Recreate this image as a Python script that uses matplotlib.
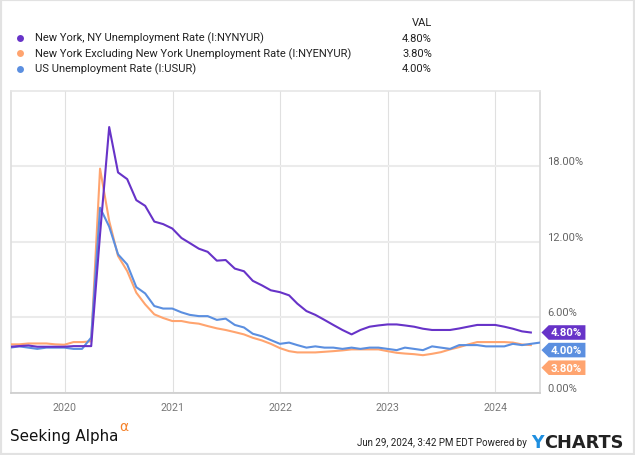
import numpy as np
import pandas as pd
import matplotlib
matplotlib.use("Agg")
import matplotlib.pyplot as plt
import matplotlib.transforms as mtransforms
from matplotlib.path import Path
from matplotlib.patches import Rectangle
from matplotlib.lines import Line2D

plt.rcParams['font.family'] = ['Roboto', 'DejaVu Sans']

# monthly values, plotted at month end
nyc = [3.67, 3.72, 3.77, 3.67, 3.67, 3.67, 3.67, 3.72, 3.72, 3.72,
       12.6,
       21.1, 17.5, 16.97, 15.3, 14.85, 13.6, 13.4,
       13.05, 12.3, 11.9, 11.45, 11.2, 10.5, 10.55, 9.87, 9.66, 8.9, 8.54, 8.15,
       8.0, 7.75, 7.09, 6.5, 6.2, 5.8, 5.4, 5.0, 4.65, 5.0, 5.26, 5.36,
       5.44, 5.44, 5.36, 5.26, 5.1, 5.0, 5.0, 5.0, 5.12, 5.26, 5.4, 5.4,
       5.4, 5.26, 5.1, 4.89, 4.8]
ny_ex = [3.86, 3.86, 3.93, 3.93, 3.93, 3.86, 3.83, 4.04, 4.04, 4.1,
         17.8,
         13.65, 10.87, 9.68, 7.96, 7.03, 6.24, 5.95,
         5.71, 5.71, 5.58, 5.5, 5.31, 5.13, 5.0, 4.83, 4.65, 4.38, 4.17, 3.9,
         3.56, 3.32, 3.22, 3.22, 3.22, 3.27, 3.32, 3.38, 3.46, 3.46, 3.46, 3.46,
         3.32, 3.19, 3.13, 3.08, 3.0, 3.11, 3.24, 3.46, 3.64, 3.85, 4.04, 4.04,
         4.04, 4.04, 4.0, 3.85, 3.8]
us = [3.6, 3.7, 3.6, 3.5, 3.6, 3.6, 3.6, 3.5, 3.5, 4.4,
      14.7, 13.2, 11.0, 10.2, 8.4, 7.9, 6.9, 6.7, 6.7,
      6.4, 6.2, 6.1, 6.1, 5.8, 5.9, 5.4, 5.2, 4.7, 4.5, 4.2, 3.9,
      4.0, 3.8, 3.6, 3.7, 3.6, 3.6, 3.5, 3.6, 3.5, 3.6, 3.6, 3.5,
      3.4, 3.6, 3.5, 3.4, 3.7, 3.6, 3.5, 3.8, 3.8, 3.8, 3.7, 3.7,
      3.7, 3.9, 3.8, 3.9, 4.0]

names = ['New York, NY Unemployment Rate (I:NYNYUR)',
         'New York Excluding New York Unemployment Rate (I:NYENYUR)',
         'US Unemployment Rate (I:USUR)']
last_vals = ['4.80%', '3.80%', '4.00%']
colors = ['#6733c8', '#ffa46f', '#5b8fe0']
years = [2020, 2021, 2022, 2023, 2024]
ytick_vals = [0, 6, 12, 18]

d_nyc = pd.date_range('2019-06-30', periods=len(nyc), freq='ME')
d_ny = pd.date_range('2019-06-30', periods=len(ny_ex), freq='ME')
d_us = pd.date_range('2019-06-30', periods=len(us), freq='ME')

fig = plt.figure(figsize=(6.35, 4.56), dpi=100)
ax = fig.add_axes([10.7/635, 62/456, 529.3/635, 302.5/456])

ax.plot(d_ny, ny_ex, color=colors[1], lw=1.5, zorder=3)
ax.plot(d_us, us, color=colors[2], lw=1.5, zorder=4)
ax.plot(d_nyc, nyc, color=colors[0], lw=1.5, zorder=5)

ax.set_xlim(pd.Timestamp('2019-07-02'), pd.Timestamp('2024-05-31'))
ax.set_ylim(0, 24)

ax.set_xticks([pd.Timestamp(f'{y}-01-01') for y in years])
ax.set_xticklabels([str(y) for y in years])
ax.set_yticks(ytick_vals)
ax.set_yticklabels([f'{v:.2f}%' for v in ytick_vals])
ax.yaxis.tick_right()
ax.tick_params(axis='x', length=0, pad=6.5, labelsize=7.7, labelcolor='#777777')
ax.tick_params(axis='y', length=0, pad=5, labelsize=8, labelcolor='#666666')
off = mtransforms.ScaledTranslation(0, 0.06, fig.dpi_scale_trans)
for lbl in ax.get_yticklabels():
    lbl.set_transform(lbl.get_transform() + off)

ax.grid(axis='y', color='#ebebeb', lw=1.5)
ax.grid(axis='x', color='#e0e0e0', lw=0.8)
ax.set_axisbelow(True)
for s, c in [('left', '#dddddd'), ('top', '#e6e6e6'), ('right', '#d9d9d9'), ('bottom', '#cccccc')]:
    ax.spines[s].set_color(c)
    ax.spines[s].set_linewidth(1.2)


# value tags on the right edge
def tag_box(x0, y0, width, height, mutation_size):
    pad = 0.2 * mutation_size
    l, r = x0 - pad, x0 + width + pad * 1.4
    b, t = y0 - pad, y0 + height + pad
    tip = l - (t - b) / 2
    return Path([(l, b), (r, b), (r, t), (l, t), (tip, (b + t) / 2), (l, b)], closed=True)


trans = mtransforms.blended_transform_factory(ax.transAxes, ax.transData)
tags = [(nyc[-1], last_vals[0], colors[0], 0),
        (us[-1], last_vals[2], colors[2], -7.5),
        (ny_ex[-1], last_vals[1], colors[1], -22.6)]
for val, txt, c, dy in tags:
    ax.annotate(txt, xy=(1, val), xycoords=trans, xytext=(11, dy), textcoords='offset pixels',
                ha='left', va='center', color='white', fontsize=8.2, fontweight='bold',
                bbox=dict(boxstyle=tag_box, fc=c, ec='none'), annotation_clip=False)

# legend block
row_y = [38.5, 54, 69.5]
fig.text(432/635, 1 - 23/456, 'VAL', ha='right', va='center', fontsize=8, color='#222222')
for y, name, val, c in zip(row_y, names, last_vals, colors):
    fig.add_artist(Line2D([20/635], [1 - y/456], marker='o', ms=5, color=c, mec='none',
                          transform=fig.transFigure))
    fig.text(35/635, 1 - y/456, name, ha='left', va='center', fontsize=8, color='#222222')
    fig.text(432/635, 1 - y/456, val, ha='right', va='center', fontsize=8, color='#222222')

# footer
fig.text(10/635, 1 - 437/456, 'Seeking Alpha', family='DejaVu Sans', fontsize=10.9,
         ha='left', va='center', color='#111111')
fig.text(119/635, 1 - 427/456, 'α', family='DejaVu Sans', fontsize=10,
         ha='left', va='center', color='#f5822a')
fig.text(527/635, 1 - 443/456, 'Jun 29, 2024, 3:42 PM EDT Powered by', ha='right',
         va='center', fontsize=7.0, color='#222222')
fig.text(531.5/635, 1 - 443/456, 'Y', family='DejaVu Sans', fontweight='bold',
         fontsize=12.5, ha='left', va='center', color='#1e8fe0')
fig.text(544.5/635, 1 - 443/456, 'CHARTS', family='DejaVu Sans', fontweight='bold',
         fontsize=12.8, ha='left', va='center', color='#222222')

fig.patches.append(Rectangle((0, 0), 1, 1, transform=fig.transFigure, fill=False,
                             edgecolor='#e2e2e2', lw=3))

fig.savefig('out.png', dpi=100)
